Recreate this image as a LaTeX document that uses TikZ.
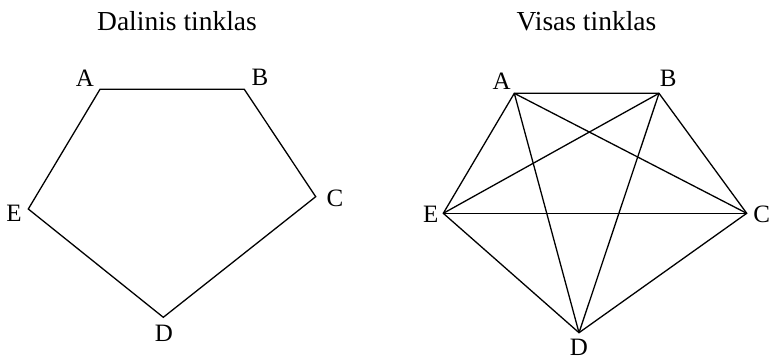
\documentclass[tikz,border=0pt]{standalone}
\usepackage{fontspec}
\setmainfont{Liberation Serif}
\begin{document}
\begin{tikzpicture}[x=1pt,y=-1pt,
  edge/.style={line width=1.3pt,line join=miter},
  lbl/.style={font=\fontsize{25}{27}\selectfont,inner sep=0pt},
  ttl/.style={font=\fontsize{27.5}{30}\selectfont,inner sep=0pt}]
\useasboundingbox (0,0) rectangle (771,360);
% titles
\node[ttl] (t1) at (177,21) {Dalinis tinklas};
\node[ttl] (t2) at (586.5,21) {Visas tinklas};
% left network
\coordinate (lA) at (100,89.3);
\coordinate (lB) at (244.3,89.3);
\coordinate (lC) at (315.7,196.7);
\coordinate (lD) at (163.3,317.3);
\coordinate (lE) at (28.3,209);
\draw[edge] (lA) -- (lB) -- (lC) -- (lD) -- (lE) -- cycle;
\node[lbl] (llA) at (85,78) {A};
\node[lbl] (llB) at (260,77) {B};
\node[lbl] (llC) at (335,198) {C};
\node[lbl] (llD) at (164,333) {D};
\node[lbl] (llE) at (14,213) {E};
% right network
\coordinate (rA) at (514.3,93.3);
\coordinate (rB) at (659,93.3);
\coordinate (rC) at (746.7,213.3);
\coordinate (rD) at (579,332.7);
\coordinate (rE) at (443.3,213.3);
\draw[edge] (rA) -- (rB) -- (rC) -- (rD) -- (rE) -- cycle;
\draw[edge] (rA) -- (rC);
\draw[edge] (rA) -- (rD);
\draw[edge] (rB) -- (rD);
\draw[edge] (rB) -- (rE);
\draw[edge] (rE) -- (rC);
\node[lbl] (rlA) at (501.7,81) {A};
\node[lbl] (rlB) at (668.3,78) {B};
\node[lbl] (rlC) at (761.7,214) {C};
\node[lbl] (rlD) at (579,347) {D};
\node[lbl] (rlE) at (430.7,214) {E};
\end{tikzpicture}
\end{document}
